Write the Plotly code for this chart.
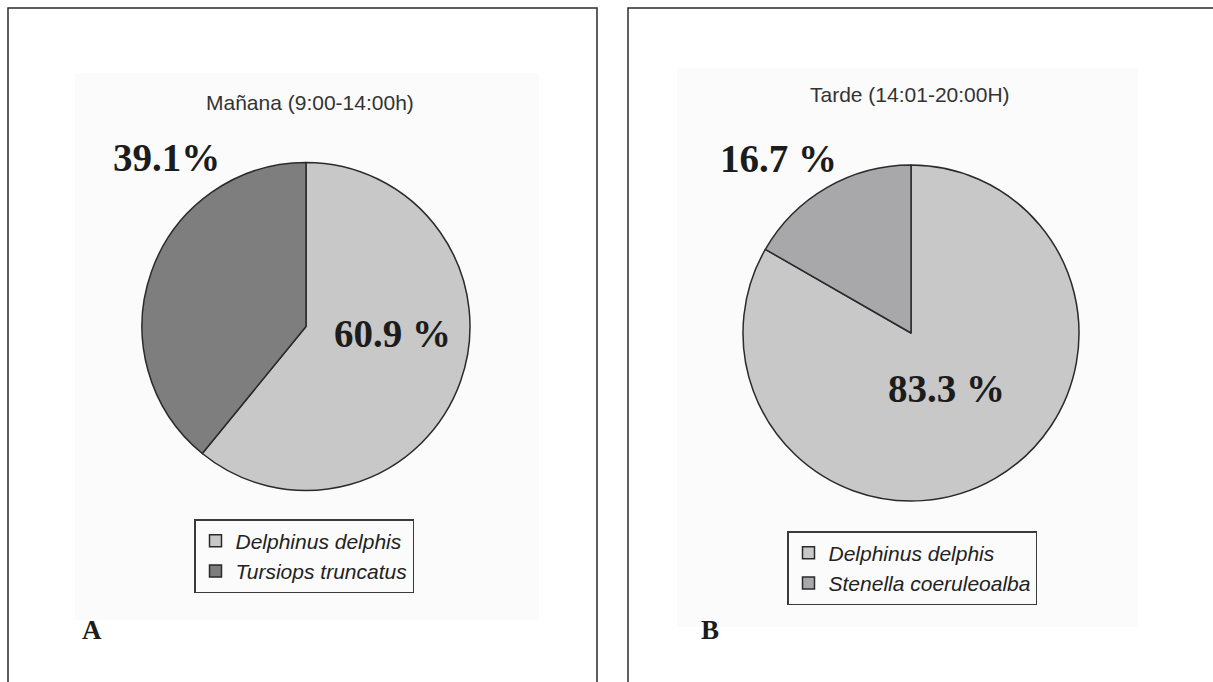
import plotly.graph_objects as go

W, H = 1213, 682

# ---- data ----
species_A = ["Delphinus delphis", "Tursiops truncatus"]
values_A = [60.9, 39.1]
pct_sep_A = [" ", ""]
colors_A = ["#c8c8c8", "#7e7e7e"]
title_A = "Mañana (9:00-14:00h)"
panel_A = "A"

species_B = ["Delphinus delphis", "Stenella coeruleoalba"]
values_B = [83.3, 16.7]
pct_sep_B = [" ", " "]
colors_B = ["#c8c8c8", "#a8a8aa"]
title_B = "Tarde (14:01-20:00H)"
panel_B = "B"


def fx(px):
    return px / W


def fy(py):
    return 1 - py / H


fig = go.Figure()


def pie(labels, values, colors, cx, cy, r, legend):
    return go.Pie(
        labels=labels,
        values=values,
        sort=False,
        direction="clockwise",
        rotation=0,
        textinfo="none",
        hoverinfo="label+percent",
        marker=dict(colors=colors, line=dict(color="#2a2a2a", width=1.5)),
        domain=dict(x=[fx(cx - r), fx(cx + r)], y=[fy(cy + r), fy(cy - r)]),
        legend=legend,
        showlegend=True,
    )


fig.add_trace(pie(species_A, values_A, colors_A, 306, 326.5, 164, "legend"))
# zero-width space keeps the second panel's labels distinct from the first panel's
fig.add_trace(pie([s + "\u200b" for s in species_B], values_B, colors_B, 911, 333, 168, "legend2"))

shapes = [
    dict(type="rect", xref="paper", yref="paper", x0=fx(8), x1=fx(597), y0=fy(700), y1=fy(8),
         line=dict(color="#2b2b2b", width=1.5), fillcolor="rgba(0,0,0,0)", layer="below"),
    dict(type="rect", xref="paper", yref="paper", x0=fx(628), x1=fx(1230), y0=fy(700), y1=fy(8),
         line=dict(color="#2b2b2b", width=1.5), fillcolor="rgba(0,0,0,0)", layer="below"),
    dict(type="rect", xref="paper", yref="paper", x0=fx(75), x1=fx(539), y0=fy(620), y1=fy(73),
         line=dict(width=0), fillcolor="#fbfbfb", layer="below"),
    dict(type="rect", xref="paper", yref="paper", x0=fx(677), x1=fx(1138), y0=fy(627), y1=fy(68),
         line=dict(width=0), fillcolor="#fbfbfb", layer="below"),
]

pct_font = dict(family="Liberation Serif", size=39, color="#1c1c1c", weight="bold")
annotations = [
    dict(text=title_A, x=fx(310), y=fy(103), showarrow=False, xanchor="center", yanchor="middle",
         font=dict(family="Liberation Sans", size=21, color="#333333")),
    dict(text=title_B, x=fx(910), y=fy(95), showarrow=False, xanchor="center", yanchor="middle",
         font=dict(family="Liberation Sans", size=21, color="#333333")),
    dict(text=f"{values_A[0]}{pct_sep_A[0]}%", x=fx(392), y=fy(333), showarrow=False,
         xanchor="center", yanchor="middle", font=pct_font),
    dict(text=f"{values_A[1]}{pct_sep_A[1]}%", x=fx(166), y=fy(157), showarrow=False,
         xanchor="center", yanchor="middle", font=pct_font),
    dict(text=f"{values_B[0]}{pct_sep_B[0]}%", x=fx(946), y=fy(388), showarrow=False,
         xanchor="center", yanchor="middle", font=pct_font),
    dict(text=f"{values_B[1]}{pct_sep_B[1]}%", x=fx(778), y=fy(158), showarrow=False,
         xanchor="center", yanchor="middle", font=pct_font),
    dict(text=panel_A, x=fx(92), y=fy(630), showarrow=False, xanchor="center", yanchor="middle",
         font=dict(family="Liberation Serif", size=27, color="#1c1c1c", weight="bold")),
    dict(text=panel_B, x=fx(710), y=fy(630), showarrow=False, xanchor="center", yanchor="middle",
         font=dict(family="Liberation Serif", size=27, color="#1c1c1c", weight="bold")),
]

legend_font = dict(family="Liberation Sans", size=21, color="#222222", style="italic")
fig.update_layout(
    width=W,
    height=H,
    margin=dict(l=0, r=0, t=0, b=0),
    paper_bgcolor="white",
    plot_bgcolor="white",
    shapes=shapes,
    annotations=annotations,
    legend=dict(x=fx(194), y=fy(519), xanchor="left", yanchor="top", font=legend_font,
                bordercolor="#3a3a3a", borderwidth=1.5, bgcolor="rgba(255,255,255,0)"),
    legend2=dict(x=fx(787), y=fy(531), xanchor="left", yanchor="top", font=legend_font,
                 bordercolor="#3a3a3a", borderwidth=1.5, bgcolor="rgba(255,255,255,0)"),
)

fig.write_html("out.html")
